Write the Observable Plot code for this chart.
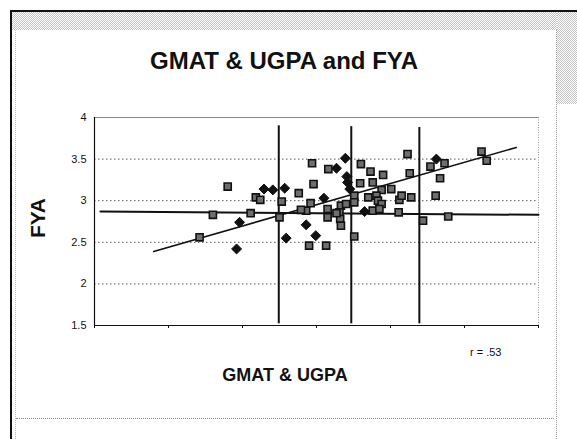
<!DOCTYPE html>
<html><head><meta charset="utf-8">
<script src="https://cdn.jsdelivr.net/npm/d3@7"></script>
<script src="https://cdn.jsdelivr.net/npm/@observablehq/plot@0.6"></script>
<style>
body{margin:0;background:#fff;font-family:"Liberation Sans",Arial,sans-serif;}
#wrap{position:relative;width:577px;height:439px;overflow:hidden;background:#fff;}
.abs{position:absolute;}
.stip{background:repeating-conic-gradient(#c4c4c4 0 25%, #fff 0 50%) 0 0/2px 2px;}
#chart{position:absolute;left:0;top:0;}
.txt{position:absolute;white-space:nowrap;color:#111;}
</style></head><body>
<div id="wrap">
  <div class="abs stip" style="left:12px;top:12px;width:565px;height:18px"></div>
  <div class="abs stip" style="left:557px;top:12px;width:20px;height:92px"></div>
  <div class="abs" style="left:556px;top:30px;width:0;height:409px;border-left:1px dotted #999"></div>
  <div class="abs" style="left:15px;top:30px;width:0;height:409px;border-left:1px dotted #bbb"></div>
  <div class="abs" style="left:16px;top:418px;width:538px;height:0;border-top:1px dotted #888"></div>
  <div class="abs" style="left:10px;top:10px;width:567px;height:2px;background:#111"></div>
  <div class="abs" style="left:10px;top:10px;width:2px;height:429px;background:#111"></div>
  <div id="chart"></div>
  <div class="txt" style="left:0;width:568px;text-align:center;top:47px;font-size:24px;font-weight:bold;">GMAT &amp; UGPA and FYA</div>
  <div class="txt" style="left:8px;top:206px;width:60px;text-align:center;font-size:21px;font-weight:bold;transform:rotate(-90deg);">FYA</div>
  <div class="txt" style="left:185px;width:200px;text-align:center;top:365px;font-size:18px;font-weight:bold;">GMAT &amp; UGPA</div>
  <div class="txt" style="left:470px;top:346px;font-size:11px;">r = .53</div>
</div>
<script>
// Data (x in unlabeled composite units, y = FYA)
const diamondX = [2.29, 2.41, 2.57, 1.96, 1.92, 2.59, 2.86, 2.99, 3.10, 3.27, 3.39, 3.41, 3.42, 3.45, 4.62, 3.65];
const diamondY = [3.14, 3.13, 3.15, 2.74, 2.42, 2.55, 2.71, 2.58, 3.03, 3.39, 3.51, 3.29, 3.22, 3.14, 3.50, 2.87];
const squareX = [1.80, 2.18, 2.24, 2.53, 1.60, 2.11, 1.42, 2.50, 2.94, 2.96, 2.76, 2.92, 2.86, 2.79, 2.90, 3.13,
                 3.16, 3.15, 3.15, 3.33, 3.31, 3.32, 3.33, 3.27, 3.40, 3.51, 3.51, 3.51, 3.60, 3.73, 3.90, 3.59,
                 3.76, 3.88, 4.01, 3.70, 3.81, 3.83, 3.88, 3.76, 3.85, 4.12, 4.15, 4.11, 4.23, 4.26, 4.28, 4.44,
                 4.78, 4.61, 4.67, 4.54, 4.73, 5.23, 5.30];
const squareY = [3.17, 3.04, 3.01, 2.99, 2.83, 2.85, 2.56, 2.80, 3.45, 3.20, 3.09, 2.97, 2.88, 2.89, 2.46, 2.46,
                 3.38, 2.90, 2.80, 2.94, 2.86, 2.78, 2.70, 2.85, 2.96, 3.06, 2.98, 2.57, 3.44, 3.35, 3.31, 3.21,
                 3.22, 3.13, 3.14, 3.04, 3.06, 3.00, 2.96, 2.88, 2.90, 3.01, 3.06, 2.86, 3.56, 3.33, 3.04, 2.76,
                 2.81, 3.06, 3.27, 3.41, 3.45, 3.59, 3.48];
const fitX = [0.80, 5.70];
const fitY = [2.39, 3.64];
const meanX = [0.08, 6.0];
const meanY = [2.87, 2.83];
const cutX = [2.49, 3.47, 4.39];
const cutTop = [3.90, 3.89, 3.88];
const yTicks = [1.5, 2, 2.5, 3, 3.5, 4];
const yTickLabels = ["1.5", "2", "2.5", "3", "3.5", "4"];
const xTicks = [0, 1, 2, 3, 4, 5, 6];
const gridY = [2, 2.5, 3, 3.5];

const diamonds = diamondX.map((x, i) => ({x, y: diamondY[i]}));
const squares = squareX.map((x, i) => ({x, y: squareY[i]}));
const fit = fitX.map((x, i) => ({x, y: fitY[i]}));
const mean = meanX.map((x, i) => ({x, y: meanY[i]}));
const cuts = cutX.map((x, i) => ({x, y1: 1.52, y2: cutTop[i]}));

const chart = Plot.plot({
  width: 577, height: 439,
  marginLeft: 94, marginRight: 39, marginTop: 117, marginBottom: 114,
  style: {background: "transparent", fontFamily: "Liberation Sans, Arial, sans-serif", fontSize: "11px", color: "#111"},
  x: {domain: [0, 6], ticks: xTicks, tickFormat: () => "", tickSize: 3, label: null},
  y: {domain: [1.5, 4], ticks: yTicks, tickFormat: (d) => yTickLabels[yTicks.indexOf(d)], tickSize: 0, tickPadding: 8, label: null},
  marks: [
    Plot.ruleY(gridY, {stroke: "#555", strokeDasharray: "1.5,2.5", strokeWidth: 1}),
    Plot.ruleY([4], {stroke: "#888", strokeWidth: 1.2}),
    Plot.ruleX([6], {stroke: "#999", strokeDasharray: "1,1.5"}),
    Plot.ruleX([0], {stroke: "#111", strokeWidth: 1.2}),
    Plot.ruleY([1.5], {stroke: "#111", strokeWidth: 1.2}),
    Plot.line(mean, {x: "x", y: "y", stroke: "#111", strokeWidth: 2}),
    Plot.ruleX(cuts, {x: "x", y1: "y1", y2: "y2", stroke: "#111", strokeWidth: 2}),
    Plot.line(fit, {x: "x", y: "y", stroke: "#111", strokeWidth: 1.6}),
    Plot.dot(squares, {x: "x", y: "y", symbol: "square", r: 4, fill: "#6e6e6e", stroke: "#111", strokeWidth: 1.6}),
    Plot.dot(diamonds, {x: "x", y: "y", symbol: "diamond2", r: 4.5, fill: "#111", stroke: "#111", strokeWidth: 1})
  ]
});
document.getElementById("chart").appendChild(chart);
</script>
</body></html>
